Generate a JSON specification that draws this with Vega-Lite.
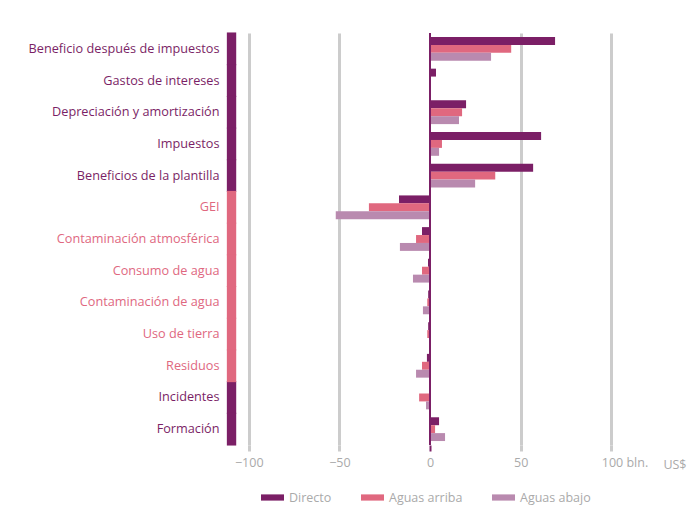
{
  "$schema": "https://vega.github.io/schema/vega-lite/v6.json",
  "width": 406,
  "height": 412,
  "background": "white",
  "padding": {"top": 32, "left": 28, "right": 5, "bottom": 5},
  "config": {
    "font": "Open Sans",
    "view": {"stroke": null}
  },
  "datasets": {
    "barras": [
      {"cat": "Beneficio después de impuestos", "serie": "Directo", "v": 69},
      {"cat": "Beneficio después de impuestos", "serie": "Aguas arriba", "v": 44.8},
      {"cat": "Beneficio después de impuestos", "serie": "Aguas abajo", "v": 33.7},
      {"cat": "Gastos de intereses", "serie": "Directo", "v": 3.3},
      {"cat": "Gastos de intereses", "serie": "Aguas arriba", "v": 0},
      {"cat": "Gastos de intereses", "serie": "Aguas abajo", "v": 0},
      {"cat": "Depreciación y amortización", "serie": "Directo", "v": 19.9},
      {"cat": "Depreciación y amortización", "serie": "Aguas arriba", "v": 17.7},
      {"cat": "Depreciación y amortización", "serie": "Aguas abajo", "v": 16},
      {"cat": "Impuestos", "serie": "Directo", "v": 61.3},
      {"cat": "Impuestos", "serie": "Aguas arriba", "v": 6.6},
      {"cat": "Impuestos", "serie": "Aguas abajo", "v": 5},
      {"cat": "Beneficios de la plantilla", "serie": "Directo", "v": 56.9},
      {"cat": "Beneficios de la plantilla", "serie": "Aguas arriba", "v": 36},
      {"cat": "Beneficios de la plantilla", "serie": "Aguas abajo", "v": 24.9},
      {"cat": "GEI", "serie": "Directo", "v": -17.1},
      {"cat": "GEI", "serie": "Aguas arriba", "v": -33.7},
      {"cat": "GEI", "serie": "Aguas abajo", "v": -52},
      {"cat": "Contaminación atmosférica", "serie": "Directo", "v": -4.4},
      {"cat": "Contaminación atmosférica", "serie": "Aguas arriba", "v": -7.7},
      {"cat": "Contaminación atmosférica", "serie": "Aguas abajo", "v": -16.6},
      {"cat": "Consumo de agua", "serie": "Directo", "v": -1.1},
      {"cat": "Consumo de agua", "serie": "Aguas arriba", "v": -4.4},
      {"cat": "Consumo de agua", "serie": "Aguas abajo", "v": -9.4},
      {"cat": "Contaminación de agua", "serie": "Directo", "v": -1},
      {"cat": "Contaminación de agua", "serie": "Aguas arriba", "v": -1.5},
      {"cat": "Contaminación de agua", "serie": "Aguas abajo", "v": -3.9},
      {"cat": "Uso de tierra", "serie": "Directo", "v": -1},
      {"cat": "Uso de tierra", "serie": "Aguas arriba", "v": -1.5},
      {"cat": "Uso de tierra", "serie": "Aguas abajo", "v": -0.2},
      {"cat": "Residuos", "serie": "Directo", "v": -1.7},
      {"cat": "Residuos", "serie": "Aguas arriba", "v": -4.4},
      {"cat": "Residuos", "serie": "Aguas abajo", "v": -7.7},
      {"cat": "Incidentes", "serie": "Directo", "v": -0.3},
      {"cat": "Incidentes", "serie": "Aguas arriba", "v": -6},
      {"cat": "Incidentes", "serie": "Aguas abajo", "v": -2.2},
      {"cat": "Formación", "serie": "Directo", "v": 5},
      {"cat": "Formación", "serie": "Aguas arriba", "v": 2.8},
      {"cat": "Formación", "serie": "Aguas abajo", "v": 8.3}
    ],
    "grupos": [
      {"cat": "Beneficio después de impuestos", "g": "eco"},
      {"cat": "Gastos de intereses", "g": "eco"},
      {"cat": "Depreciación y amortización", "g": "eco"},
      {"cat": "Impuestos", "g": "eco"},
      {"cat": "Beneficios de la plantilla", "g": "eco"},
      {"cat": "GEI", "g": "amb"},
      {"cat": "Contaminación atmosférica", "g": "amb"},
      {"cat": "Consumo de agua", "g": "amb"},
      {"cat": "Contaminación de agua", "g": "amb"},
      {"cat": "Uso de tierra", "g": "amb"},
      {"cat": "Residuos", "g": "amb"},
      {"cat": "Incidentes", "g": "soc"},
      {"cat": "Formación", "g": "soc"}
    ]
  },
  "layer": [
    {
      "data": {"name": "grupos"},
      "transform": [{"filter": "datum.g !== 'amb'"}],
      "mark": {"type": "bar", "color": "#7b1f66", "stroke": "#7b1f66", "strokeWidth": 9},
      "encoding": {
        "y": {"field": "cat", "type": "nominal",
              "sort": ["Beneficio después de impuestos", "Gastos de intereses", "Depreciación y amortización", "Impuestos", "Beneficios de la plantilla", "GEI", "Contaminación atmosférica", "Consumo de agua", "Contaminación de agua", "Uso de tierra", "Residuos", "Incidentes", "Formación"],
              "scale": {"paddingInner": 0.25, "paddingOuter": 0.125},
              "axis": {"title": null, "domain": false, "ticks": false, "labelPadding": 8, "labelFontSize": 12.7, "labelLimit": 300,
                       "labelColor": {"condition": {"test": "indexof(['GEI','Contaminación atmosférica','Consumo de agua','Contaminación de agua','Uso de tierra','Residuos'], datum.label) >= 0", "value": "#e0687f"}, "value": "#7b1f66"}}},
        "x": {"datum": -109.6},
        "x2": {"datum": -109.4}
      }
    },
    {
      "data": {"name": "grupos"},
      "transform": [{"filter": "datum.g === 'amb'"}],
      "mark": {"type": "bar", "color": "#e0687f", "stroke": "#e0687f", "strokeWidth": 9},
      "encoding": {
        "y": {"field": "cat", "type": "nominal",
              "sort": ["Beneficio después de impuestos", "Gastos de intereses", "Depreciación y amortización", "Impuestos", "Beneficios de la plantilla", "GEI", "Contaminación atmosférica", "Consumo de agua", "Contaminación de agua", "Uso de tierra", "Residuos", "Incidentes", "Formación"]},
        "x": {"datum": -109.6},
        "x2": {"datum": -109.4}
      }
    },
    {
      "data": {"name": "barras"},
      "mark": {"type": "bar"},
      "encoding": {
        "y": {"field": "cat", "type": "nominal",
              "sort": ["Beneficio después de impuestos", "Gastos de intereses", "Depreciación y amortización", "Impuestos", "Beneficios de la plantilla", "GEI", "Contaminación atmosférica", "Consumo de agua", "Contaminación de agua", "Uso de tierra", "Residuos", "Incidentes", "Formación"]},
        "yOffset": {"field": "serie", "type": "nominal", "sort": ["Directo", "Aguas arriba", "Aguas abajo"], "scale": {"paddingInner": 0, "paddingOuter": 0}},
        "x": {"field": "v", "type": "quantitative",
              "scale": {"domain": [-112, 112], "nice": false, "zero": false},
              "axis": {"values": [-100, -50, 0, 50, 100], "grid": true, "gridColor": "#cccccc", "gridWidth": 3,
                       "gridOpacity": {"condition": {"test": "datum.value === 0", "value": 0}, "value": 1},
                       "domain": false, "tickColor": {"condition": {"test": "datum.value === 0", "value": "#7b1f66"}, "value": "#cccccc"},
                       "tickWidth": {"condition": {"test": "datum.value === 0", "value": 2}, "value": 3}, "tickSize": 6,
                       "labelColor": "#aaaaaa", "labelFontSize": 12.5, "labelPadding": 5,
                       "labelExpr": "datum.value === 100 ? '100 bln.' : format(datum.value, 'd')",
                       "labelAlign": {"condition": {"test": "datum.value === 100", "value": "left"}, "value": "center"},
                       "labelOffset": {"condition": {"test": "datum.value === 100", "value": -10}, "value": 0},
                       "title": "US$", "titleColor": "#aaaaaa", "titleFontSize": 12.5, "titleFontWeight": "normal",
                       "titleX": 459, "titleY": 23, "titleAlign": "right", "titleBaseline": "alphabetic"}},
        "color": {"field": "serie", "type": "nominal",
                  "scale": {"domain": ["Directo", "Aguas arriba", "Aguas abajo"], "range": ["#7b1f66", "#e0687f", "#b98aaf"]},
                  "legend": {"title": null, "orient": "none", "direction": "horizontal", "legendX": 34, "legendY": 453,
                             "symbolType": "M-1,-0.27L1,-0.27L1,0.27L-1,0.27Z", "symbolSize": 529, "symbolStrokeWidth": 0,
                             "labelColor": "#aaaaaa", "labelFontSize": 12.5, "labelOffset": 5, "columnPadding": 29}}
      }
    },
    {
      "data": {"name": "grupos"},
      "mark": {"type": "rule", "color": "#7b1f66", "strokeWidth": 2},
      "encoding": {"x": {"datum": 0}}
    }
  ]
}
